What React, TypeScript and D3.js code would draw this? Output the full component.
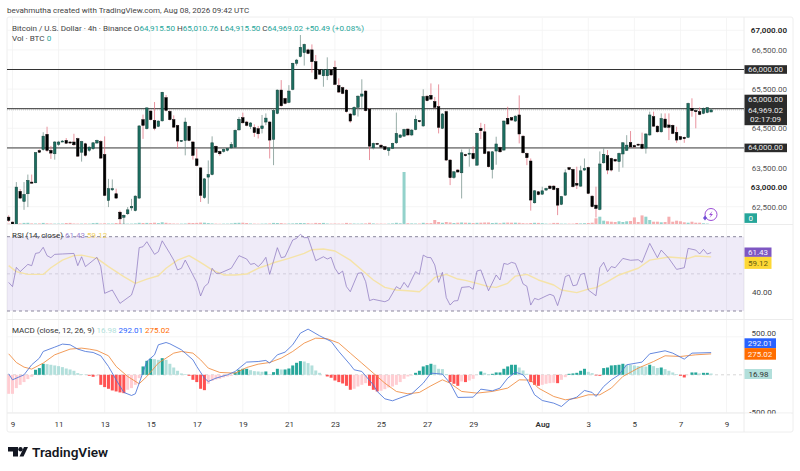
import { useEffect, useRef } from "react";
import * as d3 from "d3";

const FONT = "Roboto, 'Liberation Sans', sans-serif";

// 4h candles, first one is Jul 8 20:00 UTC
const startTime = Date.UTC(2026, 6, 8, 20);
const barMs = 4 * 3600 * 1000;

const opens = [
  62234,62107,62050,62890,62634,62830,63128,63110,63930,63960,
  64345,63936,63850,64090,64165,64190,64150,64150,64235,63890,
  64105,63940,63980,64125,64165,63830,62660,62930,62830,62360,
  62230,62320,62470,62400,62720,64720,64490,64940,64700,64550,
  64690,65280,64930,64720,64570,64170,64190,64550,64150,63720,
  63490,62730,63255,63320,64040,63910,63910,63940,64000,64020,
  64460,64770,64660,64550,64515,64490,64490,64660,64660,64220,
  64880,65475,65260,65160,65490,66160,66330,66430,66500,66500,
  66200,65990,65840,65840,65990,66055,65590,65535,65475,64865,
  64840,65035,65320,65450,64990,64000,64115,64070,64030,63930,
  63990,64130,64270,64300,64480,64330,64470,64695,64560,65320,
  65340,65180,65050,64500,64925,63690,63245,63435,63365,63830,
  63840,63860,63560,64500,64410,63900,63450,63920,64010,63945,
  64755,64770,64685,64840,64300,63860,63665,62600,62880,62820,
  62925,63025,63025,62965,62560,62795,63495,63450,63095,63025,
  63435,63500,62770,62540,62430,63620,63800,63730,63705,63650,
  63845,63940,64135,64060,64095,64095,63995,64330,64795,64555,
  64410,64735,64585,64575,64395,64285,64270,64270,65010,64950,
  64925,64880,64905,64915.5,
];
const closes = [
  62149,62047,63000,62720,62813,63170,63100,63877,63890,64300,
  63936,63868,64150,64150,64175,64120,64125,64080,63790,64160,
  63810,64020,64130,64190,63740,62790,62960,62960,62720,62190,
  62280,62420,62510,62770,64560,64575,65020,64720,64500,64685,
  65420,64960,64720,64530,64175,64190,64660,64190,63810,63550,
  62790,63210,63320,64130,63890,63850,63960,63980,64090,64450,
  64730,64640,64575,64635,64390,64360,64560,64760,64200,64950,
  65475,65075,65135,65450,66160,66240,66565,66640,66410,66200,
  65760,65880,65990,66000,65860,65620,65425,65390,64925,64685,
  65035,65320,65375,64950,64045,64115,64105,64020,63960,64000,
  64115,64370,64330,64470,64330,64455,64730,64670,65305,65205,
  65245,65035,64525,64865,63690,63240,63390,63385,63875,63800,
  63865,63725,64370,64440,63860,63520,63900,64100,63900,64685,
  64610,64710,64810,64355,63875,63750,62670,62905,62810,62905,
  62965,62965,62940,62540,62755,63365,63450,63010,63050,63415,
  63475,62840,62500,62455,63590,63835,63435,63435,63665,63860,
  64130,64070,64025,64025,64070,63990,64355,64840,64555,64410,
  64750,64525,64525,64370,64200,64215,64235,65135,64950,64925,
  64855,65010,65025,64969.02,
];
const highs = [
  62280,62120,63128,62950,63128,63320,63320,63890,63960,64400,
  64540,64050,64175,64180,64200,64250,64170,64360,64260,64180,
  64130,64040,64150,64210,64200,64295,63210,63195,62960,62400,
  62300,62490,62700,62790,64580,64850,65040,64960,65170,64700,
  65430,65350,64960,64830,64590,64200,64770,64570,64175,63980,
  63510,63230,63680,64295,64060,63930,63990,64000,64150,64470,
  64790,64900,64690,64660,64600,64560,64840,64880,64680,65000,
  65490,65730,65280,65600,66170,66270,66880,66660,66530,66640,
  66370,66010,66010,66310,66010,66225,65775,65560,65500,64890,
  65060,65340,65750,65470,65010,64135,64130,64090,64050,64020,
  64130,64900,64350,64490,64500,64480,64830,64710,65495,65340,
  65645,65300,65620,64890,64950,63710,63410,63460,63960,63850,
  63980,64040,64390,64640,64610,63920,63920,64285,64030,64700,
  65050,64790,64830,65340,64320,63880,63730,62925,62900,63010,
  62985,63050,63050,62985,62775,63450,63515,63470,63520,63545,
  63730,63520,62790,63010,63910,63990,63945,63750,63725,63880,
  64150,64325,64430,64080,64110,64390,64375,64925,64925,64575,
  64880,64880,64880,64595,64540,64305,64290,65155,65265,64970,
  65035,65030,65040,65010.76,
];
const lows = [
  62110,62030,62040,62700,62420,62490,63090,63100,63870,63930,
  63900,63720,63700,64050,64150,64100,64100,64050,63770,63650,
  63780,63900,63950,64100,63720,62770,62490,62900,62700,62060,
  62050,62290,62400,62380,62700,64230,64470,64700,64450,64530,
  64670,64930,64700,64510,63980,64150,63810,64170,63700,63530,
  62620,62700,62575,63300,63870,63800,63880,63910,63980,64000,
  64440,64620,64550,64480,64280,64240,64370,64580,63730,63560,
  64860,65050,65110,65140,65470,66100,66310,66100,66390,65920,
  65740,65860,65560,65730,65840,65600,65400,65370,64900,64640,
  64820,64800,65000,64930,63690,63960,64090,64000,63940,63800,
  63970,64100,64250,64280,64310,64300,64450,64650,64540,65190,
  65220,65010,64370,64480,63670,63050,63210,63370,62710,63780,
  63520,63700,63540,64225,63840,63500,63220,63570,63880,63930,
  64590,64690,64660,64115,63860,63560,62400,62580,62790,62800,
  62900,62945,62920,62285,62540,62775,63430,62990,62950,63005,
  63415,62820,62480,62225,62410,63600,63330,63400,63645,63390,
  63500,63920,64005,63990,64050,63970,63855,64310,64535,64390,
  64390,64505,64200,64350,64130,64195,64130,64250,64795,64500,
  64835,64860,64885,64915.5,
];
const volumes = [
  40,30,60,60,110,120,60,50,60,110,
  70,50,40,40,50,100,110,50,40,40,
  50,40,90,110,50,70,50,50,100,80,
  50,40,40,60,120,100,110,100,130,90,
  170,120,70,50,40,40,50,110,100,110,
  140,130,90,60,40,30,40,40,60,110,
  120,130,100,50,40,30,40,50,60,110,
  100,90,50,50,60,80,100,90,80,50,
  110,100,110,50,40,50,40,40,110,60,
  50,40,50,60,120,60,40,40,30,40,
  60,120,70,5200,80,60,50,50,120,90,
  90,400,200,120,200,150,100,130,150,130,
  120,100,120,130,150,150,100,120,80,130,
  140,130,130,120,80,60,100,120,110,80,
  40,40,110,110,40,40,40,40,100,60,
  80,100,130,570,730,330,270,230,200,270,
  200,270,300,660,200,860,730,400,230,230,
  170,200,730,230,330,270,170,130,230,130,
  130,70,40,0,
];

// RSI, read at the visible turning points (candle number / value)
const rsiAt = [0,1,2,3,5,6,7,8,9,10,11,12,14,17,18,19,20,23,24,25,27,29,32,33,34,35,36,38,39,40,42,43,44,45,46,48,49,50,51,52,53,54,55,58,60,62,63,64,65,66,67,68,70,71,72,74,75,76,77,78,80,82,83,84,85,86,87,88,89,91,92,93,94,95,98,99,101,102,103,104,106,107,108,109,110,111,112,113,114,115,116,117,118,120,121,122,123,125,127,128,129,130,131,132,133,134,135,136,137,138,140,141,142,143,144,145,146,147,148,149,150,151,153,154,155,156,157,158,160,162,164,165,167,169,170,172,174,176,177,179,180,181,182,183];
const rsiValues = [45.4,43.1,53.5,51.2,55.1,54.4,61,61.4,64.3,59.8,58.7,60.5,60.7,61,54.4,59.2,53.9,58.9,53.9,39.5,41.3,34.1,38.6,44.9,64.1,64.6,67.3,60.5,61.9,67.8,61,57.4,52.1,53,57.4,49.4,45.4,38.1,43.1,44.9,53,50.3,50.3,53,59.8,58,55.1,55.6,53.9,55.9,58.9,49.7,64.1,58.7,59.2,68.2,69.1,71.3,69.5,69.5,57.1,59.2,58,58.9,53,49.9,51.5,43.1,40.4,50.3,50.6,45.8,35.6,36.3,35,35.9,43.1,41.8,45.4,42.7,51.2,49.7,60.1,58.9,58.7,54.8,45.4,50.8,37.2,33.2,35.4,35.6,42.7,43.1,41.7,51.5,52.1,40.9,49.4,46.7,55.6,55.1,56.2,55.6,50.3,44.6,43.3,33.2,36.8,36.1,38.1,39,38.2,32.9,39.5,48.5,49.4,43.6,44,49.7,50.3,41.3,38.2,53.3,56.2,51.2,53.9,53.3,58.3,57.3,57.6,56.2,66.4,58.7,62.8,58.3,52.4,53.3,63.7,62.8,60.7,63.2,60.7,61.43];
const rsiMaAt = [0,2,5,9,11,14,17,19,23,26,30,33,36,39,41,44,47,49,51,53,56,59,62,65,68,69,73,77,79,82,85,89,92,95,98,101,104,107,109,111,114,117,119,122,125,127,130,132,135,138,142,144,148,151,153,156,159,164,167,172,177,179,183];
const rsiMaValues = [54.4,51.2,49.7,49.7,53.3,57.4,59.8,60.1,58.3,53.9,48.5,44.9,47.2,49,53,57.4,59.8,57.4,54.8,52.1,49.4,49.4,49.9,53,55.1,56,58.3,61,63,63.4,62.3,57.4,52.1,46.7,42.7,41.3,40.9,40.4,44,48.1,49.7,47.2,46.5,44.9,43.1,42.7,44.9,48.8,49.7,46.7,44,41.3,39.9,41.8,42.6,45.8,49.4,53,57.4,59.1,58.3,59.6,59.12];

// MACD lines, same idea
const macdAt = [0,1,3,4,6,8,9,12,14,16,18,20,22,24,26,28,30,32,33,34,36,38,39,41,42,45,46,48,49,51,52,54,57,59,62,65,67,68,70,72,74,76,78,81,84,86,89,90,92,95,96,98,100,103,105,108,110,113,115,117,121,123,126,128,130,132,134,135,137,139,142,144,146,148,150,152,153,155,157,159,161,165,167,171,173,176,178,183];
const macdValues = [13,-66,-22,0,132,219,307,364,404,395,338,307,294,250,110,-66,-232,-272,-250,-110,175,263,395,425,408,329,285,197,110,-44,-88,-44,0,44,167,175,189,154,263,298,395,548,601,513,439,307,132,66,44,-132,-219,-316,-342,-285,-250,-110,22,9,-110,-298,-294,-189,-211,-175,-44,35,0,-60,-263,-338,-373,-417,-329,-294,-206,-232,-285,-154,-66,0,132,167,276,316,285,206,285,292.01];
const signalAt = [0,2,4,6,9,12,16,19,21,23,26,28,31,34,36,39,43,45,48,50,52,55,59,62,65,68,71,74,77,80,83,86,89,92,95,98,101,104,107,110,113,115,118,122,126,130,133,136,138,142,145,148,151,154,157,160,164,168,171,175,179,183];
const signalValues = [276,162,101,75,154,263,338,351,338,320,250,110,-22,-118,-22,154,285,307,285,197,88,31,22,96,140,162,219,307,417,482,474,417,285,154,22,-110,-219,-250,-232,-145,-66,-110,-219,-241,-219,-175,-66,-70,-175,-285,-329,-307,-263,-263,-175,-22,88,175,250,241,263,275.02];
const histogram = [
  -250,-250,-175,-132,-96,-57,-26,66,88,145,
  140,132,123,114,101,83,70,53,22,9,
  4,-13,-26,-18,-132,-162,-184,-206,-219,-232,
  -241,-197,-175,-132,-44,110,184,211,206,197,
  219,197,145,96,53,18,9,-13,-66,-96,
  -184,-202,-118,-79,-61,-53,-35,-22,-13,31,
  66,79,79,61,48,44,40,44,9,35,
  79,70,70,83,123,158,180,175,154,123,
  57,26,0,-22,-39,-75,-96,-114,-145,-197,
  -184,-154,-132,-110,-145,-197,-219,-210,-189,-167,
  -154,-132,-96,-53,-22,-9,26,53,110,127,
  145,132,79,75,9,-96,-118,-145,-88,-96,
  -75,-53,0,44,26,9,13,31,31,79,
  110,132,132,96,57,13,-96,-132,-145,-132,
  -118,-110,-105,-110,-66,-31,13,18,26,53,
  79,39,22,-9,-13,88,96,123,127,132,
  145,132,130,123,114,110,108,132,114,90,
  96,75,53,31,9,-13,-35,-4,31,31,
  18,26,26,16.98,
];

const priceTicks = [67000, 66500, 65500, 64500, 63500, 63000, 62500];
const boldTicks = [67000, 63000];
const levels = [66000, 65000, 64000];
const dateTicks = [
  [6, 9], [6, 11], [6, 13], [6, 15], [6, 17], [6, 19], [6, 21], [6, 23], [6, 25], [6, 27], [6, 29],
  [7, 1], [7, 3], [7, 5], [7, 7], [7, 9],
].map(([m, d]) => new Date(Date.UTC(2026, m, d)));

export default function App() {
  const svgRef = useRef<SVGSVGElement>(null);

  useEffect(() => {
    if (!svgRef.current) return;
    const svg = d3.select(svgRef.current);
    svg.selectAll("*").remove();
    svg.attr("font-family", FONT);

    const plotLeft = 7;
    const plotRight = 744;

    const x = d3
      .scaleUtc()
      .domain([dateTicks[0], dateTicks[dateTicks.length - 1]])
      .range([12.5, 726.5]);
    const xBar = (i: number) => x(new Date(startTime + i * barMs));

    const yPrice = d3.scaleLinear().domain([62000, 67000]).range([226.3, 30.3]);
    const yVol = d3.scaleLinear().domain([0, 5200]).range([224, 172]);
    const yRsi = d3.scaleLinear().domain([30, 70]).range([311, 236.7]);
    const yMacd = d3.scaleLinear().domain([-500, 500]).range([412.8, 336.8]);

    const label = (
      tx: number,
      ty: number,
      text: string,
      fill: string,
      size = 8,
      anchor = "start",
      weight = "normal"
    ) =>
      svg
        .append("text")
        .attr("x", tx)
        .attr("y", ty)
        .attr("fill", fill)
        .attr("font-size", size)
        .attr("font-weight", weight)
        .attr("text-anchor", anchor)
        .attr("dominant-baseline", "central")
        .text(text);

    const box = (bx: number, by: number, w: number, h: number, fill: string) =>
      svg.append("rect").attr("x", bx).attr("y", by).attr("width", w).attr("height", h).attr("fill", fill);

    // Frame
    svg
      .append("rect")
      .attr("x", 7)
      .attr("y", 17)
      .attr("width", 786)
      .attr("height", 415)
      .attr("rx", 2)
      .attr("fill", "#fff")
      .attr("stroke", "#eeeeee");

    // Grid
    const grid = svg.append("g").attr("stroke", "#f3f3f3").attr("stroke-width", 0.8);
    dateTicks.forEach((d) => {
      grid.append("line").attr("x1", x(d)).attr("x2", x(d)).attr("y1", 18).attr("y2", 413);
    });
    [...priceTicks, ...levels].forEach((p) => {
      grid.append("line").attr("x1", plotLeft).attr("x2", plotRight).attr("y1", yPrice(p)).attr("y2", yPrice(p));
    });
    [500, -500].forEach((v) => {
      grid.append("line").attr("x1", plotLeft).attr("x2", plotRight).attr("y1", yMacd(v)).attr("y2", yMacd(v));
    });

    // Pane separators
    const seps = svg.append("g").attr("stroke", "#ececec");
    [224.5, 319.5, 413].forEach((sy) => {
      seps.append("line").attr("x1", plotLeft).attr("x2", 793).attr("y1", sy).attr("y2", sy);
    });
    seps.append("line").attr("x1", plotRight).attr("x2", plotRight).attr("y1", 17).attr("y2", 432);

    // Volume
    svg
      .append("g")
      .selectAll("rect")
      .data(volumes)
      .join("rect")
      .attr("x", (_, i) => xBar(i) - 1.5)
      .attr("width", 3)
      .attr("y", (d) => yVol(d))
      .attr("height", (d) => yVol(0) - yVol(d))
      .attr("fill", (_, i) => (closes[i] >= opens[i] ? "#93d2cb" : "#f5aeb0"));

    // Price levels and the last price dots
    svg
      .append("line")
      .attr("x1", plotLeft)
      .attr("x2", plotRight)
      .attr("y1", yPrice(64969.02))
      .attr("y2", yPrice(64969.02))
      .attr("stroke", "#b5b9b9")
      .attr("stroke-width", 0.7)
      .attr("stroke-dasharray", "1 1");
    levels.forEach((p) => {
      svg
        .append("line")
        .attr("x1", plotLeft)
        .attr("x2", plotRight)
        .attr("y1", yPrice(p))
        .attr("y2", yPrice(p))
        .attr("stroke", p === 64000 ? "#8c8c8c" : "#333333")
        .attr("stroke-width", p === 64000 ? 1.8 : 1);
    });

    // Candles, clipped at the pane bottom
    const clip = svg.append("clipPath").attr("id", "price-clip").append("rect");
    clip.attr("x", plotLeft).attr("y", 18).attr("width", plotRight - plotLeft).attr("height", 206);
    const candles = svg.append("g").attr("clip-path", "url(#price-clip)");
    opens.forEach((o, i) => {
      const c = closes[i];
      const up = c >= o;
      candles
        .append("line")
        .attr("x1", xBar(i))
        .attr("x2", xBar(i))
        .attr("y1", yPrice(highs[i]))
        .attr("y2", yPrice(lows[i]))
        .attr("stroke", up ? "#76918b" : "#e2707f")
        .attr("stroke-width", 0.75);
      candles
        .append("rect")
        .attr("x", xBar(i) - 1.25)
        .attr("width", 2.5)
        .attr("y", yPrice(Math.max(o, c)))
        .attr("height", Math.max(1, Math.abs(yPrice(o) - yPrice(c))))
        .attr("fill", up ? "#1b6e60" : "#000000")
        .attr("stroke", up ? "#143f38" : "#000000")
        .attr("stroke-width", 0.5);
    });

    // RSI pane
    svg
      .append("rect")
      .attr("x", plotLeft)
      .attr("y", yRsi(70))
      .attr("width", plotRight - plotLeft)
      .attr("height", yRsi(30) - yRsi(70))
      .attr("fill", "#7e57c2")
      .attr("opacity", 0.12);
    [70, 50, 30].forEach((v) => {
      svg
        .append("line")
        .attr("x1", plotLeft)
        .attr("x2", plotRight)
        .attr("y1", yRsi(v))
        .attr("y2", yRsi(v))
        .attr("stroke", v === 50 ? "#c4bfd0" : "#7f7b92")
        .attr("stroke-width", v === 50 ? 0.7 : 0.9)
        .attr("stroke-dasharray", "3 3");
    });
    const sparseLine = (
      at: number[],
      values: number[],
      y: d3.ScaleLinear<number, number>,
      stroke: string,
      width: number
    ) => {
      const line = d3
        .line<number>()
        .x((d) => xBar(d))
        .y((_, k) => y(values[k]));
      svg
        .append("path")
        .attr("d", line(at))
        .attr("fill", "none")
        .attr("stroke", stroke)
        .attr("stroke-width", width)
        .attr("stroke-linejoin", "round");
    };
    sparseLine(rsiMaAt, rsiMaValues, yRsi, "#f5e3a8", 1.4);
    sparseLine(rsiAt, rsiValues, yRsi, "#8872bd", 0.7);

    // MACD pane
    svg
      .append("line")
      .attr("x1", plotLeft)
      .attr("x2", plotRight)
      .attr("y1", yMacd(0))
      .attr("y2", yMacd(0))
      .attr("stroke", "#c4c4c4")
      .attr("stroke-width", 0.7)
      .attr("stroke-dasharray", "3 3");
    svg
      .append("g")
      .selectAll("rect")
      .data(histogram)
      .join("rect")
      .attr("x", (_, i) => xBar(i) - 1.5)
      .attr("width", 3)
      .attr("y", (d) => yMacd(Math.max(d, 0)))
      .attr("height", (d) => Math.abs(yMacd(d) - yMacd(0)))
      .attr("fill", (d, i) => {
        const prev = i > 0 ? histogram[i - 1] : d;
        if (d >= 0) return d >= prev ? "#26a69a" : "#b2dfdb";
        return d < prev ? "#ff5252" : "#ffcdd2";
      });
    sparseLine(signalAt, signalValues, yMacd, "#f08a3c", 0.85);
    sparseLine(macdAt, macdValues, yMacd, "#4a74d8", 0.85);

    // Axes
    const priceAxis = svg
      .append("g")
      .attr("transform", `translate(787,0)`)
      .call(
        d3
          .axisLeft(yPrice)
          .tickValues(priceTicks)
          .tickSize(0)
          .tickPadding(0)
          .tickFormat((d) => d3.format(",.2f")(d as number))
      );
    priceAxis.select(".domain").remove();
    priceAxis
      .selectAll<SVGTextElement, number>("text")
      .attr("font-family", FONT)
      .attr("font-size", 8)
      .attr("font-weight", (d) => (boldTicks.includes(d) ? 600 : 400))
      .attr("fill", (d) => (boldTicks.includes(d) ? "#222" : "#555"));

    const timeAxis = svg
      .append("g")
      .attr("transform", "translate(0,413)")
      .call(
        d3
          .axisBottom(x)
          .tickValues(dateTicks)
          .tickSize(0)
          .tickPadding(8)
          .tickFormat((d) => {
            const day = (d as Date).getUTCDate();
            return day === 1 ? "Aug" : String(day);
          })
      );
    timeAxis.select(".domain").remove();
    timeAxis
      .selectAll<SVGTextElement, Date>("text")
      .attr("font-family", FONT)
      .attr("font-size", 8)
      .attr("font-weight", (d) => (d.getUTCDate() === 1 ? 600 : 400))
      .attr("fill", "#333");

    // Axis price tags
    const tag = (ty: number, text: string) => {
      box(744.5, ty - 4.3, 42.5, 8.6, "#2b2b2b");
      label(765.5, ty, text, "#e8e8e8", 8, "middle");
    };
    tag(yPrice(66000), "66,000.00");
    tag(yPrice(64000), "64,000.00");
    box(744.5, 94.7, 42.5, 30.5, "#2b2b2b");
    label(765.5, 99.2, "65,000.00", "#e8e8e8", 8, "middle");
    label(765.5, 110, "64,969.02", "#e8e8e8", 8, "middle");
    label(765.5, 119.2, "02:17:09", "#e8e8e8", 8, "middle");
    box(744.5, 213.3, 12.5, 9.6, "#26a69a");
    label(750.7, 218.3, "0", "#ffffff", 8, "middle");

    // RSI tags
    label(772, yRsi(40), "40.00", "#444", 8, "end");
    box(744.5, 247.5, 27, 9.4, "#7e57c2");
    label(758, 252.2, "61.43", "#f4f0ff", 8, "middle");
    box(744.5, 256.9, 27, 12, "#fdd835");
    label(758, 263, "59.12", "#665a10", 8, "middle");

    // MACD tags
    label(776, 333.6, "500.00", "#444", 8, "end");
    label(776, yMacd(-500), "-500.00", "#444", 8, "end");
    box(745, 413.6, 46, 5, "#ffffff");
    box(744.5, 338.3, 31.5, 9.8, "#2962ff");
    label(760, 343.2, "292.01", "#eef2ff", 8, "middle");
    box(744.5, 348.1, 31.5, 11.6, "#ff6d00");
    label(760, 354, "275.02", "#fff1e6", 8, "middle");
    box(744.5, 369, 27.5, 10, "#b2dfdb");
    label(758.5, 374, "16.98", "#333", 8, "middle");

    // Header and legends
    label(7, 10.3, "bevahmutha created with TradingView.com, Aug 08, 2026 09:42 UTC", "#444", 8);
    const legend = svg.append("text").attr("x", 12).attr("y", 27.5).attr("font-size", 8.1).attr("dominant-baseline", "central");
    legend.append("tspan").attr("fill", "#444").text("Bitcoin / U.S. Dollar · 4h · Binance  O");
    legend.append("tspan").attr("fill", "#26a69a").text("64,915.50");
    legend.append("tspan").attr("fill", "#444").text("  H");
    legend.append("tspan").attr("fill", "#26a69a").text("65,010.76");
    legend.append("tspan").attr("fill", "#444").text("  L");
    legend.append("tspan").attr("fill", "#26a69a").text("64,915.50");
    legend.append("tspan").attr("fill", "#444").text("  C");
    legend.append("tspan").attr("fill", "#26a69a").text("64,969.02  +50.49 (+0.08%)");
    const vol = svg.append("text").attr("x", 12).attr("y", 38.3).attr("font-size", 8.1).attr("dominant-baseline", "central");
    vol.append("tspan").attr("fill", "#444").text("Vol · BTC  ");
    vol.append("tspan").attr("fill", "#26a69a").text("0");

    const rsiLegend = svg.append("text").attr("x", 12).attr("y", 235).attr("font-size", 8).attr("dominant-baseline", "central");
    rsiLegend.append("tspan").attr("fill", "#333").text("RSI (14, close)  ");
    rsiLegend.append("tspan").attr("fill", "#9b86cf").text("61.43  ");
    rsiLegend.append("tspan").attr("fill", "#f0d060").text("59.12");

    const macdLegend = svg.append("text").attr("x", 12).attr("y", 330).attr("font-size", 8).attr("dominant-baseline", "central");
    macdLegend.append("tspan").attr("fill", "#333").text("MACD (close, 12, 26, 9)  ");
    macdLegend.append("tspan").attr("fill", "#b2dfdb").text("16.98  ");
    macdLegend.append("tspan").attr("fill", "#2962ff").text("292.01  ");
    macdLegend.append("tspan").attr("fill", "#ff6d00").text("275.02");

    // Lightning badge
    const badge = svg.append("g").attr("transform", "translate(711,214.5)");
    badge.append("circle").attr("r", 6).attr("fill", "#fff").attr("stroke", "#9c4fd6").attr("stroke-width", 1);
    badge.append("path").attr("d", "M1.5,-3.5 L-2,0.6 L0,0.6 L-1.5,3.5 L2,-0.6 L0,-0.6 Z").attr("fill", "#9c4fd6");
    svg
      .append("path")
      .attr("d", "M705,215.5 L707,218 L705,220.5 L703,218 Z")
      .attr("fill", "#6f4fd6");

    // TradingView logo
    const logo = svg.append("g").attr("fill", "#131722");
    logo.append("path").attr("d", "M8,447 H18 V456.5 H13 V451.5 H8 Z");
    logo.append("circle").attr("cx", 20.5).attr("cy", 449.2).attr("r", 2.2);
    logo.append("path").attr("d", "M24,447 H28 L23.5,456.5 H19.5 Z");
    label(32, 451.7, "TradingView", "#131722", 13.6, "start", "600");
  }, []);

  return (
    <svg
      ref={svgRef}
      width="800"
      height="471"
      style={{ position: "absolute", left: 0, top: 0, background: "#fff" }}
    />
  );
}
